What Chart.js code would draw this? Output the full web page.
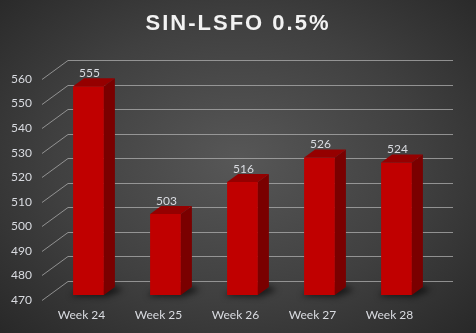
<!DOCTYPE html>
<html>
<head>
<meta charset="utf-8">
<script src="https://cdn.jsdelivr.net/npm/chart.js@4"></script>
<style>
  html, body { margin: 0; padding: 0; background: #262626; }
  #wrap {
    width: 476px; height: 333px;
    background: radial-gradient(ellipse 70% 75% at 50% 48%, #575757 0%, #404040 55%, #282828 100%);
  }
  canvas { display: block; }
</style>
</head>
<body>
<div id="wrap"><canvas id="chart" width="476" height="333"></canvas></div>
<script>
// ── data ──
const chartTitle = 'SIN-LSFO 0.5%';
const weeks = ['Week 24', 'Week 25', 'Week 26', 'Week 27', 'Week 28'];
const prices = [555, 503, 516, 526, 524];
const yMin = 470, yMax = 560, yStep = 10;

// 3D offsets (relative to the bar front plane)
const DEPTH_X = 11, DEPTH_Y = -8;   // bar depth
const WALL_X = 18, WALL_Y = -14;    // back wall
const FRONT_X = -8, FRONT_Y = 5;    // front edge of floor / labels

const labelColor = '#d9dbe0';
const gridColor = 'rgba(175,175,175,0.75)';

// the bars are clipped at the axis minimum, so use that as their foot
function barFoot(chart) {
    return chart.scales.y.getPixelForValue(yMin);
}

// back wall gridlines + shadows under the bars
const wallPlugin = {
    id: 'wall',
    beforeDatasetsDraw(chart) {
        const { ctx, chartArea: a, scales: { y } } = chart;
        ctx.save();
        ctx.strokeStyle = gridColor;
        ctx.lineWidth = 1;
        y.ticks.forEach(t => {
            const py = Math.round(y.getPixelForValue(t.value)) + 0.5;
            ctx.beginPath();
            ctx.moveTo(a.left + FRONT_X, py + FRONT_Y);
            ctx.lineTo(a.left + WALL_X, py + WALL_Y);
            ctx.lineTo(a.right + WALL_X, py + WALL_Y);
            ctx.stroke();
        });

        // soft shadows
        const b = barFoot(chart);
        ctx.filter = 'blur(3px)';
        ctx.fillStyle = 'rgba(0,0,0,0.6)';
        chart.getDatasetMeta(0).data.forEach(bar => {
            const l = bar.x - bar.width / 2, r = bar.x + bar.width / 2;
            ctx.beginPath();
            ctx.moveTo(l - 3, b + 1);
            ctx.lineTo(r + 2, b + 2);
            ctx.lineTo(r + DEPTH_X + 8, b + DEPTH_Y + 3);
            ctx.lineTo(r + DEPTH_X, b + DEPTH_Y - 1);
            ctx.lineTo(l + DEPTH_X, b + DEPTH_Y - 1);
            ctx.closePath();
            ctx.fill();
        });
        ctx.restore();
    }
};

// side / top faces of the bars and the value labels
const barFacesPlugin = {
    id: 'barFaces',
    afterDatasetsDraw(chart) {
        const { ctx } = chart;
        const meta = chart.getDatasetMeta(0);
        const b = barFoot(chart);
        ctx.save();
        meta.data.forEach((bar, i) => {
            const l = bar.x - bar.width / 2, r = bar.x + bar.width / 2;
            const top = bar.y;
            // side
            ctx.fillStyle = '#7a0000';
            ctx.beginPath();
            ctx.moveTo(r, top);
            ctx.lineTo(r + DEPTH_X, top + DEPTH_Y);
            ctx.lineTo(r + DEPTH_X, b + DEPTH_Y);
            ctx.lineTo(r, b);
            ctx.closePath();
            ctx.fill();
            // top
            ctx.fillStyle = '#950000';
            ctx.beginPath();
            ctx.moveTo(l, top);
            ctx.lineTo(l + DEPTH_X, top + DEPTH_Y);
            ctx.lineTo(r + DEPTH_X, top + DEPTH_Y);
            ctx.lineTo(r, top);
            ctx.closePath();
            ctx.fill();
            // value
            ctx.fillStyle = labelColor;
            ctx.font = '12px Lato';
            ctx.textAlign = 'center';
            ctx.textBaseline = 'middle';
            ctx.fillText(String(prices[i]), bar.x + 1, top - 13);
        });
        ctx.restore();
    }
};

const titlePlugin = {
    id: 'bigTitle',
    afterDraw(chart) {
        const { ctx } = chart;
        ctx.save();
        ctx.fillStyle = '#f2f2f2';
        ctx.font = 'bold 22px "Liberation Sans"';
        ctx.letterSpacing = '2px';
        ctx.textAlign = 'center';
        ctx.textBaseline = 'middle';
        ctx.fillText(chartTitle, 238, 24);
        ctx.restore();
    }
};

new Chart(document.getElementById('chart'), {
    type: 'bar',
    data: {
        labels: weeks,
        datasets: [{
            data: prices,
            backgroundColor: '#c00000',
            borderWidth: 0,
            barPercentage: 0.4,
            categoryPercentage: 1
        }]
    },
    options: {
        responsive: false,
        animation: false,
        layout: { padding: { top: 74, right: 41, left: 0, bottom: 0 } },
        plugins: {
            legend: { display: false },
            tooltip: { enabled: false }
        },
        scales: {
            x: {
                grid: { display: false, drawTicks: false },
                border: { display: false },
                ticks: { color: labelColor, font: { family: 'Lato', size: 12 }, padding: 13, labelOffset: -7 },
                afterFit: s => { s.height = 38; }
            },
            y: {
                min: yMin,
                max: yMax,
                grid: { display: false, drawTicks: false },
                border: { display: false },
                ticks: { stepSize: yStep, color: labelColor, font: { family: 'Lato', size: 12 }, padding: 18, labelOffset: 5 },
                afterFit: s => { s.width = 50; }
            }
        }
    },
    plugins: [wallPlugin, barFacesPlugin, titlePlugin]
});
</script>
</body>
</html>
